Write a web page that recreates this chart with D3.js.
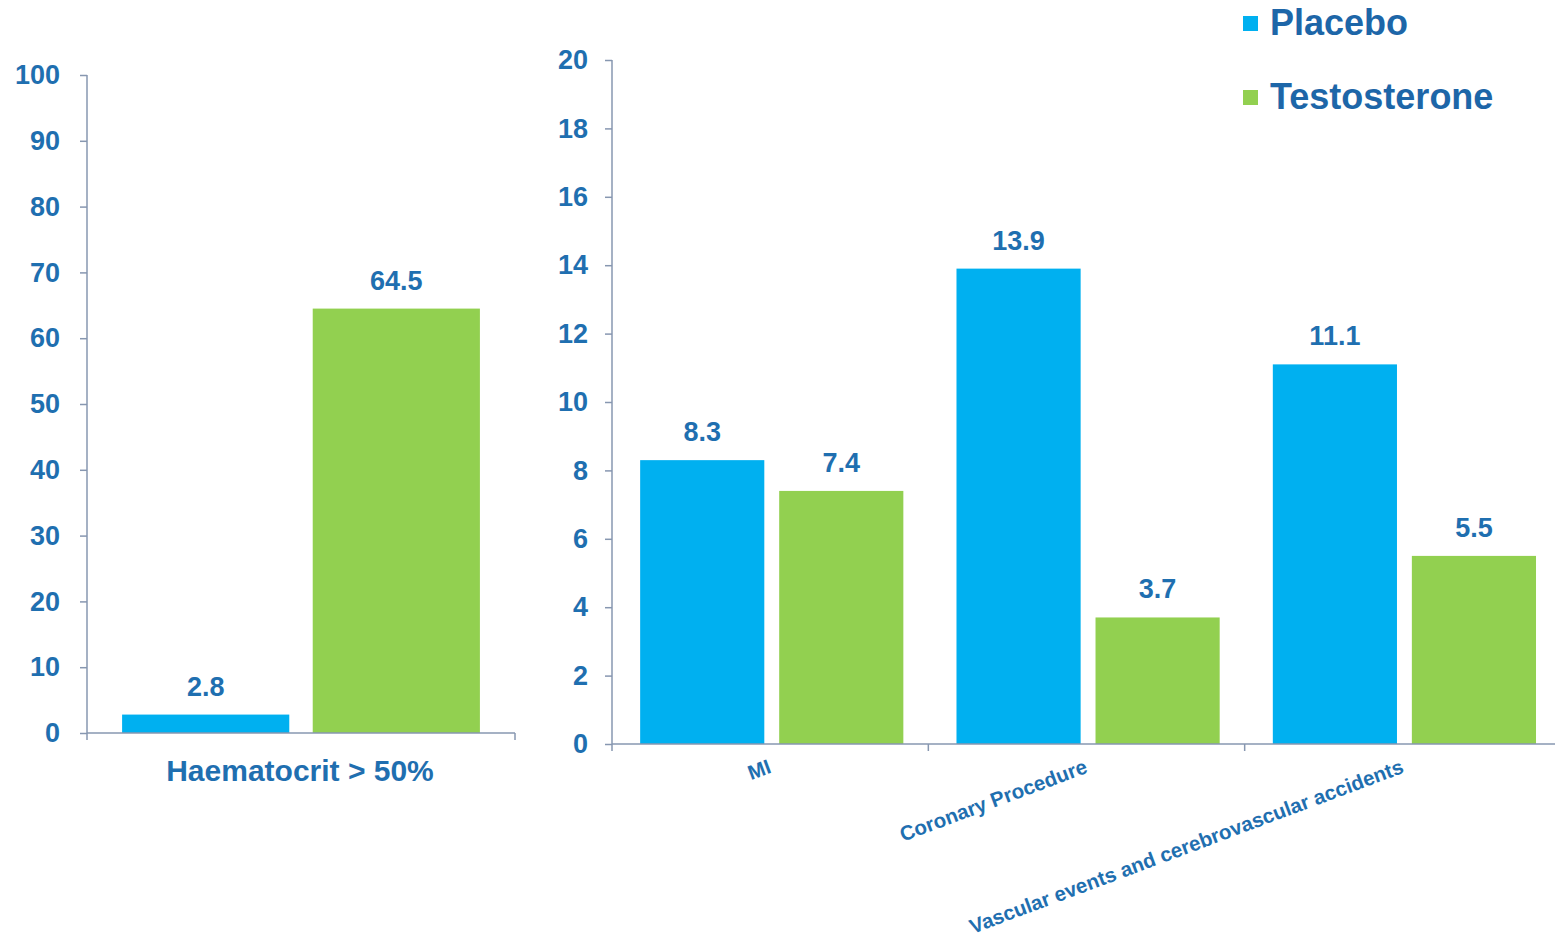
<!DOCTYPE html>
<html>
<head>
<meta charset="utf-8">
<script src="https://cdn.jsdelivr.net/npm/d3@7"></script>
<style>
  html, body { margin: 0; padding: 0; background: #ffffff; }
  svg { display: block; font-family: "Liberation Sans", Arial, sans-serif; font-weight: bold; }
</style>
</head>
<body>
<svg id="chart" width="1555" height="941"></svg>
<script>
// Series and categories
const seriesNames = ["Placebo", "Testosterone"];
const seriesColors = ["#00b0f0", "#92d050"];

const leftCategories = ["Haematocrit > 50%"];
const leftPlacebo = [2.8];
const leftTestosterone = [64.5];
const leftTicks = [0, 10, 20, 30, 40, 50, 60, 70, 80, 90, 100];

const rightCategories = ["MI", "Coronary Procedure", "Vascular events and cerebrovascular accidents"];
const rightPlacebo = [8.3, 13.9, 11.1];
const rightTestosterone = [7.4, 3.7, 5.5];
const rightTicks = [0, 2, 4, 6, 8, 10, 12, 14, 16, 18, 20];

const textColor = "#1f6fb0";
const axisColor = "#8797b0";

const svg = d3.select("#chart");

function drawPanel(opts) {
  const g = svg.append("g");
  const x = d3.scaleBand().domain(opts.categories).range([opts.x0, opts.x1]).padding(0);
  const y = d3.scaleLinear().domain([0, opts.max]).range([opts.y0, opts.y1]);
  const bw = x.bandwidth();
  const sub = d3.scaleBand().domain(seriesNames)
    .range([bw * opts.subStart, bw * opts.subEnd]).paddingInner(opts.subPad);

  const rows = opts.categories.map((c, i) => ({
    cat: c,
    values: [opts.placebo[i], opts.testosterone[i]]
  }));

  // bars
  const groups = g.selectAll("g.grp").data(rows).enter().append("g")
    .attr("transform", d => `translate(${x(d.cat)},0)`);
  groups.selectAll("rect").data(d => d.values.map((v, k) => ({ v, k })))
    .enter().append("rect")
    .attr("x", d => sub(seriesNames[d.k]))
    .attr("width", sub.bandwidth())
    .attr("y", d => y(d.v))
    .attr("height", d => y(0) - y(d.v))
    .attr("fill", d => seriesColors[d.k]);

  // value labels
  groups.selectAll("text.val").data(d => d.values.map((v, k) => ({ v, k })))
    .enter().append("text")
    .attr("x", d => sub(seriesNames[d.k]) + sub.bandwidth() / 2)
    .attr("y", d => y(d.v) - 19)
    .attr("text-anchor", "middle")
    .attr("fill", textColor)
    .style("font-size", opts.valueSize + "px")
    .text(d => d.v.toFixed(1));

  // y axis
  const ya = g.append("g").attr("transform", `translate(${opts.x0},0)`)
    .call(d3.axisLeft(y).tickValues(opts.ticks).tickSize(7).tickPadding(opts.tickPad).tickSizeOuter(0));
  ya.select(".domain").attr("stroke", axisColor).attr("stroke-width", 1.5)
    .attr("d", `M0,${y(opts.max)}V${y(0)}`);
  ya.selectAll(".tick line").attr("stroke", axisColor).attr("stroke-width", 1.5);
  ya.selectAll(".tick text").attr("fill", textColor)
    .style("font-size", opts.tickSize + "px").style("font-family", "inherit").style("font-weight", "bold");

  // x axis with ticks at category boundaries
  const xa = g.append("g").attr("transform", `translate(0,${y(0)})`);
  xa.append("line").attr("x1", opts.x0).attr("x2", Math.min(opts.x1, 1555))
    .attr("stroke", axisColor).attr("stroke-width", 1.5);
  const bounds = opts.categories.map(c => x(c)).concat([opts.x0 + bw * opts.categories.length]);
  xa.selectAll("line.b").data(bounds).enter().append("line")
    .attr("x1", d => d).attr("x2", d => d).attr("y1", 0).attr("y2", 7)
    .attr("stroke", axisColor).attr("stroke-width", 1.5);

  return { x, y, bw, g };
}

// left panel
const L = drawPanel({
  categories: leftCategories, placebo: leftPlacebo, testosterone: leftTestosterone,
  ticks: leftTicks, max: 100, x0: 87, x1: 515, y0: 733, y1: 75,
  subStart: 0.082, subEnd: 0.918, subPad: 0.123, tickPad: 20, tickSize: 27, valueSize: 27
});
L.g.selectAll("text.cat").data(leftCategories).enter().append("text")
  .attr("x", d => L.x(d) + L.bw / 2 - 1)
  .attr("y", 781)
  .attr("text-anchor", "middle")
  .attr("fill", textColor)
  .style("font-size", "30px")
  .text(d => d);

// right panel
const R = drawPanel({
  categories: rightCategories, placebo: rightPlacebo, testosterone: rightTestosterone,
  ticks: rightTicks, max: 20, x0: 612, x1: 1561, y0: 744, y1: 60,
  subStart: 0.089, subEnd: 0.921, subPad: 0.107, tickPad: 17, tickSize: 27, valueSize: 27
});
R.g.selectAll("text.cat").data(rightCategories).enter().append("text")
  .attr("transform", d => `translate(${R.x(d) + R.bw / 2 - 4},756) rotate(-20.5)`)
  .attr("dy", "0.85em")
  .attr("text-anchor", "end")
  .attr("fill", textColor)
  .style("font-size", "20.5px")
  .text(d => d);

// legend
const legend = svg.append("g");
const items = legend.selectAll("g").data(seriesNames).enter().append("g")
  .attr("transform", (d, i) => `translate(1243,${i * 74})`);
items.append("rect").attr("x", 0).attr("y", 16).attr("width", 15).attr("height", 15)
  .attr("fill", (d, i) => seriesColors[i]);
items.append("text").attr("x", 27).attr("y", 35)
  .attr("fill", "#1d66a8")
  .style("font-size", "36px")
  .text(d => d);
</script>
</body>
</html>
